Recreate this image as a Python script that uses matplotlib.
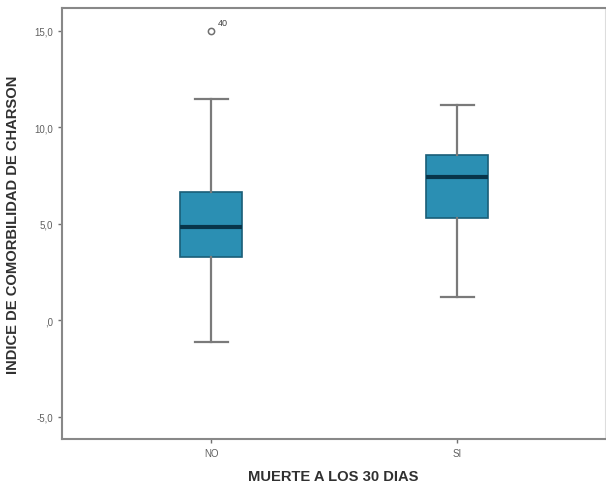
import matplotlib
matplotlib.use('Agg')
import matplotlib.pyplot as plt

plt.rcParams['font.family'] = ['Liberation Sans', 'DejaVu Sans']

# Datos
grupos = ["NO", "SI"]
q1 = [3.3, 5.3]
mediana = [4.85, 7.45]
q3 = [6.65, 8.55]
bigote_inf = [-1.1, 1.2]
bigote_sup = [11.5, 11.15]
atipicos = [[15.0], []]
etiquetas_atipicos = [["40"], []]

yticks = [-5, 0, 5, 10, 15]
ytick_labels = ["-5,0", ",0", "5,0", "10,0", "15,0"]

stats = []
for i, g in enumerate(grupos):
    stats.append(dict(label=g, q1=q1[i], med=mediana[i], q3=q3[i],
                      whislo=bigote_inf[i], whishi=bigote_sup[i], fliers=atipicos[i]))

fig = plt.figure(figsize=(6.06, 4.85), dpi=100)
ax = fig.add_axes([0.1023, 0.0928, 0.896, 0.8887])

ax.bxp(stats, positions=[1, 2], widths=0.252, patch_artist=True,
       boxprops=dict(facecolor="#2b8fb3", edgecolor="#1a5e78", linewidth=1.2),
       medianprops=dict(color="#08354a", linewidth=3),
       whiskerprops=dict(color="#7a7a7a", linewidth=1.6),
       capprops=dict(color="#7a7a7a", linewidth=1.6),
       capwidths=0.135,
       flierprops=dict(marker="o", markerfacecolor="white", markeredgecolor="#707070",
                       markersize=4.5, markeredgewidth=1.1))

for i, vals in enumerate(atipicos):
    for v, t in zip(vals, etiquetas_atipicos[i]):
        ax.annotate(t, (i + 1, v), xytext=(5, 4), textcoords="offset points",
                    fontsize=6.5, color="#404040")

ax.set_xlim(0.394, 2.60)
ax.set_ylim(-6.14, 16.19)
ax.set_xticks([1, 2])
ax.set_xticklabels(grupos)
ax.set_yticks(yticks)
ax.set_yticklabels(ytick_labels)
ax.tick_params(labelsize=7, colors="#707070", length=3, width=1)
for lab in ax.get_xticklabels() + ax.get_yticklabels():
    lab.set_color("#606060")

for s in ["left", "bottom", "top"]:
    ax.spines[s].set_color("#888888")
    ax.spines[s].set_linewidth(1.5)
ax.spines["right"].set_color("#dddddd")

ax.set_xlabel("MUERTE A LOS 30 DIAS", fontsize=10.6, fontweight="bold", color="#303030", labelpad=8)
ax.set_ylabel("INDICE DE COMORBILIDAD DE CHARSON", fontsize=10.6, fontweight="bold", color="#303030", labelpad=10)

plt.savefig("out.png", dpi=100)
